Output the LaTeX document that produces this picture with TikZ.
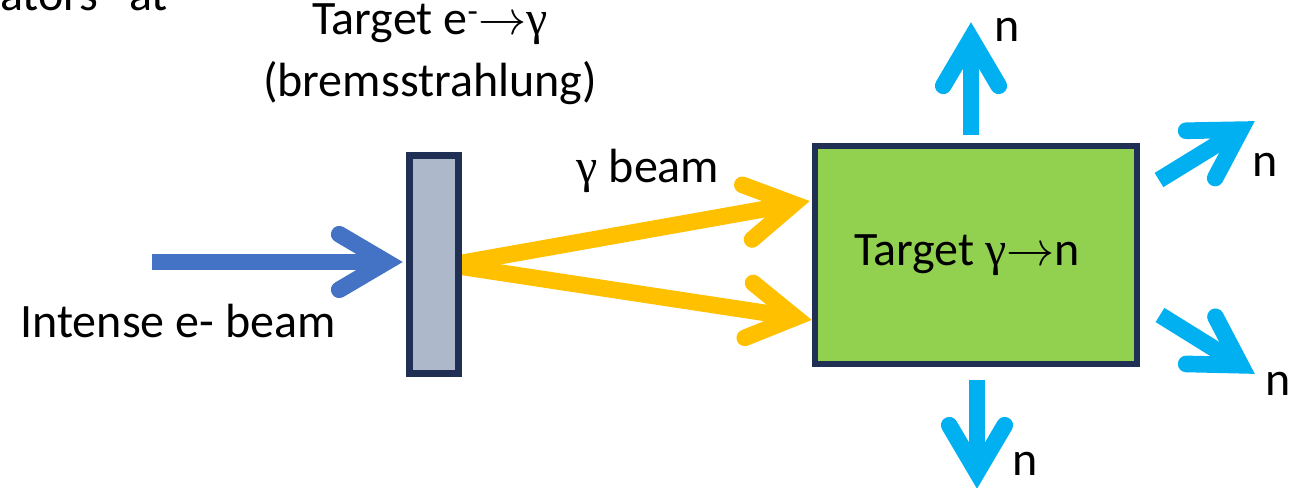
\documentclass[tikz,border=0pt]{standalone}
\usepackage{graphicx}
\usepackage{fontspec}
\setmainfont{Carlito}
\newfontfamily\symf{Liberation Serif}
\usetikzlibrary{calc}
\definecolor{navy}{RGB}{31,48,84}
\definecolor{brgray}{RGB}{173,185,202}
\definecolor{tgreen}{RGB}{146,208,80}
\definecolor{ebl}{RGB}{68,114,196}
\definecolor{gyel}{RGB}{255,192,0}
\definecolor{ncyan}{RGB}{0,176,240}
% #1 colour, #2 start coordinate, #3 tip coordinate
\newcommand\beamarrow[3]{%
  \coordinate (V#3) at ($(#3)!12.5pt!(#2)$);
  \draw[#1, line width=12.5pt] (#2) -- (V#3);
  \draw[#1, line width=12.5pt, line cap=round, line join=miter]
    ($(V#3)!41pt!30.5:(#2)$) -- (V#3) -- ($(V#3)!41pt!-30.5:(#2)$);
}
\newcommand\longarr{\scalebox{1.45}{$\rightarrow$}}
\begin{document}
\begin{tikzpicture}[x=0.75pt,y=-0.75pt,
  lbl/.style={font=\fontsize{36}{46.5}\selectfont, inner sep=0, anchor=base},
  boxstyle/.style={draw=navy, inner sep=0}]
\useasboundingbox (0,0) rectangle (1307,488);
\clip (0,0) rectangle (1307,488);

% cut-off text at top left
\node[lbl, anchor=base west] (cut) at (0,11) {ators” at};

% electron beam
\coordinate (es) at (152,262);
\coordinate (et) at (403,262);
\beamarrow{ebl}{es}{et}

% gamma beams
\coordinate (ys) at (450,265);
\coordinate (yt1) at (810,201);
\coordinate (yt2) at (812,320);
\beamarrow{gyel}{ys}{yt1}
\beamarrow{gyel}{ys}{yt2}

% bremsstrahlung target
\node[boxstyle, fill=brgray, line width=5.25pt, minimum width=36.75pt,
      minimum height=163.5pt] (brem) at (434,264.5) {};

% gamma -> n target
\node[boxstyle, fill=tgreen, line width=4.5pt, minimum width=241.5pt,
      minimum height=163.5pt] (grn) at (976,255) {};
\node[lbl] (grnlbl) at (967,266) {Target {\symf γ}\longarr n};

% neutrons
\coordinate (n1s) at (971,135);  \coordinate (n1t) at (971,22);
\coordinate (n2s) at (1159,180); \coordinate (n2t) at (1255,121);
\coordinate (n3s) at (1160,315); \coordinate (n3t) at (1255,374);
\coordinate (n4s) at (977,380);  \coordinate (n4t) at (977,489);
\beamarrow{ncyan}{n1s}{n1t}
\beamarrow{ncyan}{n2s}{n2t}
\beamarrow{ncyan}{n3s}{n3t}
\beamarrow{ncyan}{n4s}{n4t}

\node[lbl] (nl1) at (1007,42) {n};
\node[lbl] (nl2) at (1265,177) {n};
\node[lbl] (nl3) at (1278,395) {n};
\node[lbl] (nl4) at (1025,475) {n};

% labels
\node[lbl, align=center] (brlbl) at (430,97) {Target e\textsuperscript{-}\longarr{\symf γ}\\(bremsstrahlung)};
\node[lbl] (gblbl) at (648,183) {{\symf γ} beam};
\node[lbl] (eblbl) at (178,338) {Intense e- beam};
\end{tikzpicture}
\end{document}
